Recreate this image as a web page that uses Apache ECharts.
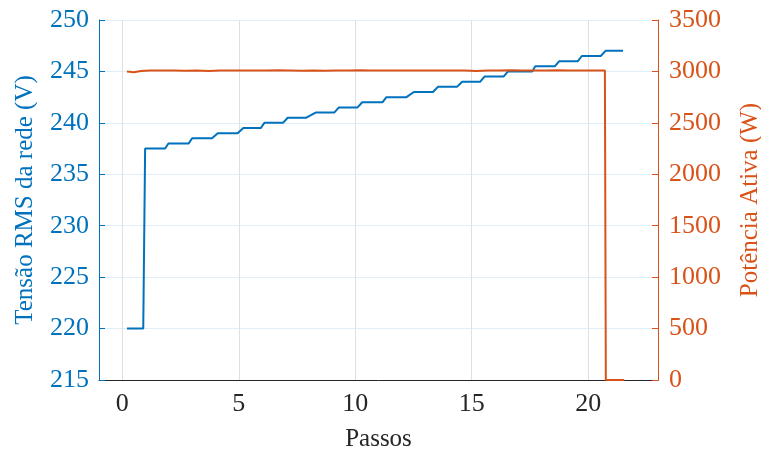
<!DOCTYPE html>
<html>
<head>
<meta charset="utf-8">
<script src="https://cdn.jsdelivr.net/npm/echarts@6/dist/echarts.min.js"></script>
<style>html,body{margin:0;padding:0;background:#fff}#c{width:761px;height:457px}</style>
</head>
<body>
<div id="c"></div>
<script>
// Tensão RMS da rede (V): step series, points [x, y]
const tensaoX = [0.2, 0.9, 0.98, 1.84, 1.98, 2.85, 3.0, 3.85, 4.1, 4.95, 5.2, 5.95, 6.1, 6.9, 7.1, 7.9, 8.3, 9.1, 9.3, 10.1, 10.3, 11.17, 11.34, 12.2, 12.52, 13.34, 13.55, 14.37, 14.59, 15.37, 15.55, 16.37, 16.56, 17.6, 17.73, 18.57, 18.76, 19.56, 19.73, 20.54, 20.75, 21.5];
const tensaoY = [220, 220, 237.5, 237.5, 238, 238, 238.5, 238.5, 239, 239, 239.5, 239.5, 240, 240, 240.5, 240.5, 241, 241, 241.5, 241.5, 242, 242, 242.5, 242.5, 243, 243, 243.5, 243.5, 244, 244, 244.5, 244.5, 245, 245, 245.5, 245.5, 246, 246, 246.5, 246.5, 247, 247];
// Potência Ativa (W)
const potX = [0.2, 0.5, 0.8, 1.2, 1.7, 2.2, 2.7, 3.2, 3.7, 4.2, 4.7, 5.2, 5.7, 6.2, 6.7, 7.2, 7.7, 8.2, 8.7, 9.2, 9.7, 10.2, 10.7, 11.2, 11.7, 12.2, 12.7, 13.2, 13.7, 14.2, 14.7, 15.2, 15.7, 16.2, 16.7, 17.2, 17.7, 18.2, 18.7, 19.2, 19.7, 20.2, 20.72, 20.76, 21.55];
const potY = [3000, 2993, 3005, 3010, 3008, 3010, 3007, 3010, 3005, 3008, 3010, 3008, 3010, 3008, 3012, 3010, 3006, 3010, 3007, 3010, 3008, 3012, 3008, 3010, 3010, 3008, 3010, 3010, 3008, 3010, 3010, 3005, 3010, 3008, 3012, 3008, 3010, 3010, 3012, 3010, 3008, 3010, 3010, 0, 0];
const xTicks = [0, 5, 10, 15, 20];
const xMin = -1, xMax = 23;
const leftMin = 215, leftMax = 250, leftStep = 5;
const rightMin = 0, rightMax = 3500, rightStep = 500;

const BLUE = '#0072BD', ORANGE = '#D95319', DARK = '#262626';
const FONT = 'Liberation Serif';
const FS = 26;

const chart = echarts.init(document.getElementById('c'), null, {renderer: 'canvas'});
chart.setOption({
  animation: false,
  backgroundColor: '#fff',
  grid: {left: 99, right: 103, top: 20, bottom: 77, containLabel: false, outerBoundsMode: 'none'},
  xAxis: {
    type: 'value', min: xMin, max: xMax,
    name: 'Passos', nameLocation: 'middle', nameGap: 47,
    nameTextStyle: {fontFamily: FONT, fontSize: 25, color: DARK},
    axisLine: {onZero: false, lineStyle: {color: DARK, width: 1}},
    axisTick: {inside: true, length: 6, customValues: xTicks, lineStyle: {color: DARK}},
    axisLabel: {customValues: xTicks, fontFamily: FONT, fontSize: FS, color: DARK, margin: 11},
    splitLine: {show: false}
  },
  yAxis: [{
    type: 'value', position: 'left', min: leftMin, max: leftMax, interval: leftStep,
    name: 'Tensão RMS da rede (V)', nameLocation: 'middle', nameGap: 61,
    nameTextStyle: {fontFamily: FONT, fontSize: 25, color: BLUE},
    axisLine: {show: true, onZero: false, lineStyle: {color: BLUE, width: 1}},
    axisTick: {show: true, inside: true, length: 6, lineStyle: {color: BLUE}},
    axisLabel: {fontFamily: FONT, fontSize: FS, color: BLUE, margin: 10},
    splitLine: {show: true, lineStyle: {color: 'rgba(0,114,189,0.12)', width: 1}}
  }, {
    type: 'value', position: 'right', min: rightMin, max: rightMax, interval: rightStep,
    name: 'Potência Ativa (W)', nameLocation: 'middle', nameGap: 80,
    nameTextStyle: {fontFamily: FONT, fontSize: 25, color: ORANGE},
    axisLine: {show: true, onZero: false, lineStyle: {color: ORANGE, width: 1}},
    axisTick: {show: true, inside: true, length: 6, lineStyle: {color: ORANGE}},
    axisLabel: {fontFamily: FONT, fontSize: FS, color: ORANGE, margin: 11, formatter: v => String(v)},
    splitLine: {show: false}
  }],
  series: [{
    type: 'line', yAxisIndex: 0, showSymbol: false, z: 3,
    lineStyle: {color: BLUE, width: 2}, itemStyle: {color: BLUE},
    data: tensaoX.map((x, i) => [x, tensaoY[i]]),
    markLine: {
      silent: true, symbol: 'none', label: {show: false}, z: 1,
      lineStyle: {color: '#e0e0e0', width: 1, type: 'solid'},
      data: xTicks.map(v => ({xAxis: v}))
    }
  }, {
    type: 'line', yAxisIndex: 1, showSymbol: false, z: 4,
    lineStyle: {color: ORANGE, width: 2}, itemStyle: {color: ORANGE},
    data: potX.map((x, i) => [x, potY[i]])
  }]
});
</script>
</body>
</html>
